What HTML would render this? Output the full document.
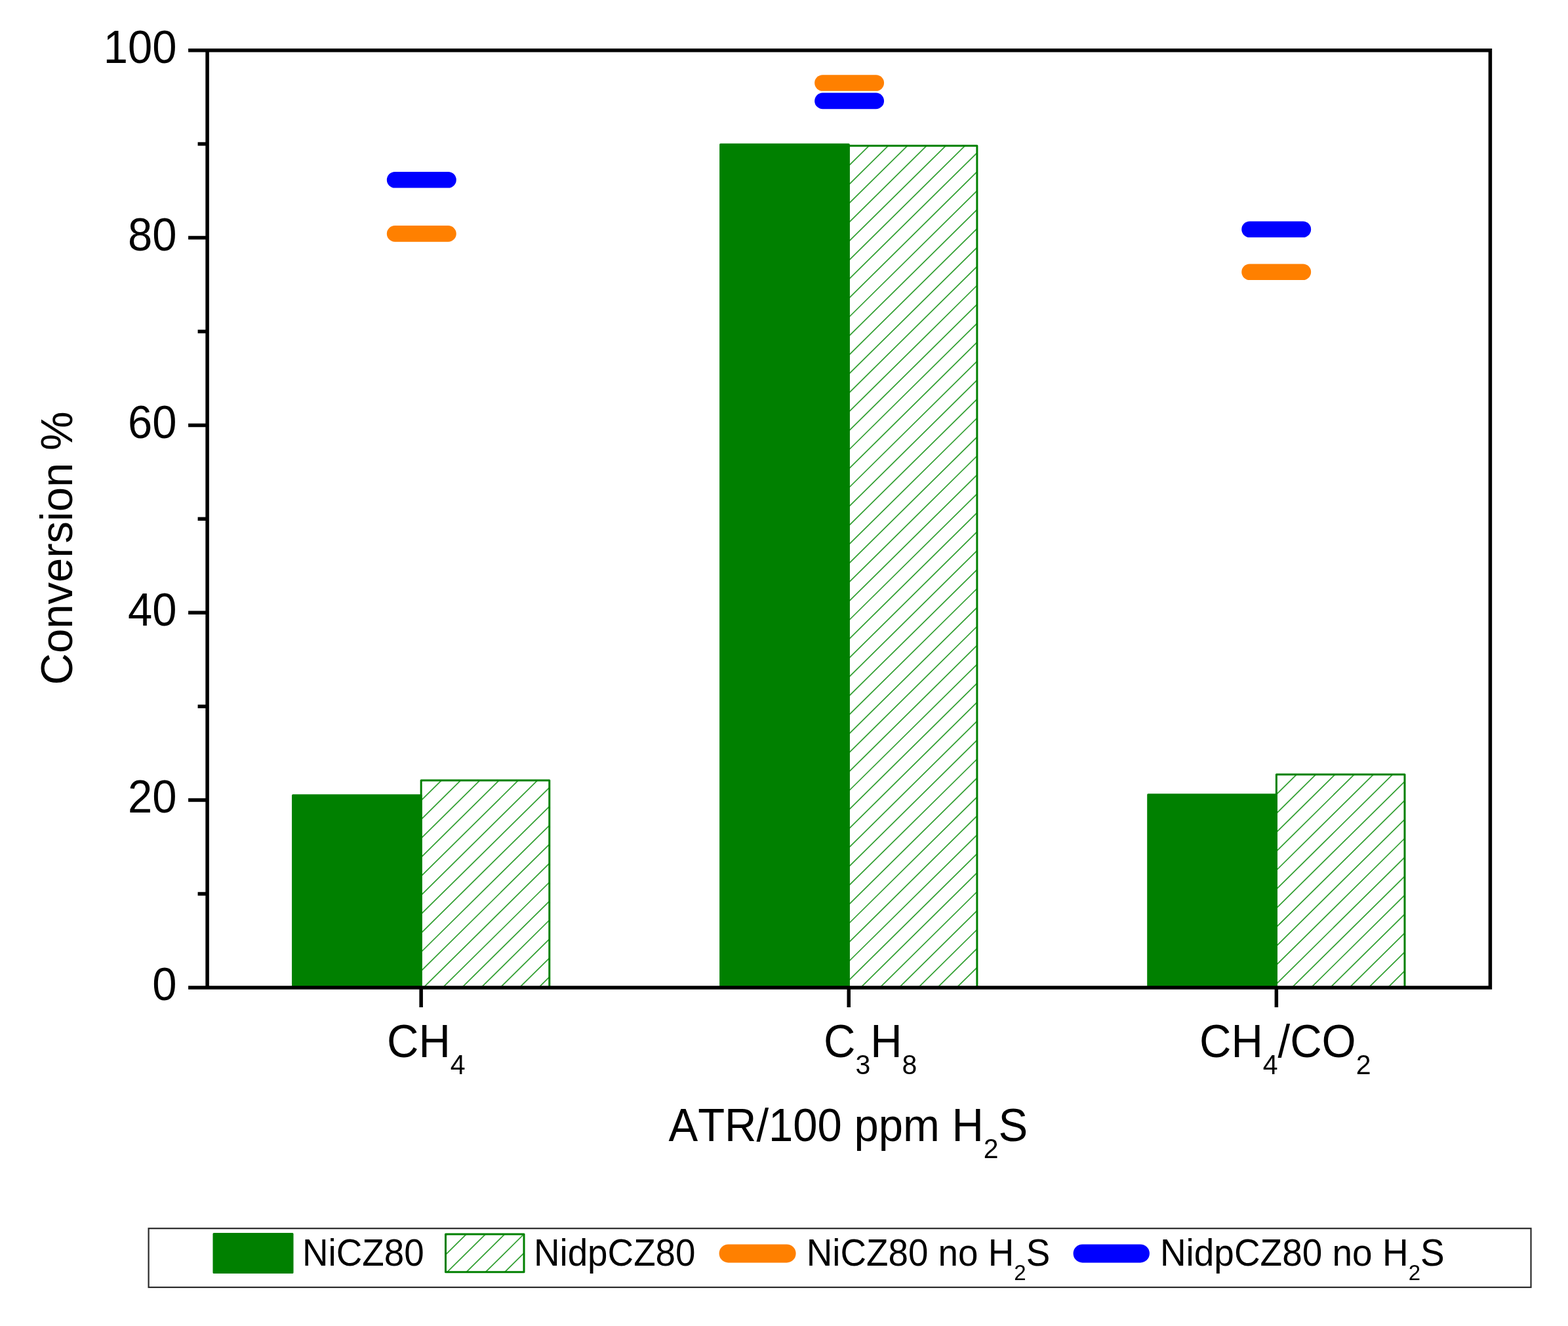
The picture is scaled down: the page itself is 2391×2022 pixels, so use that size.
<!DOCTYPE html>
<html lang="en"><head><meta charset="utf-8"><title>Conversion % - ATR/100 ppm H2S</title>
<style>html,body{margin:0;padding:0;background:#fff}body{width:2391px;height:2022px;overflow:hidden}svg{display:block}text{font-family:"Liberation Sans",Arial,Helvetica,sans-serif;fill:#000;font-kerning:none;font-variant-ligatures:none}</style>
</head><body>
<svg width="2391" height="2022" viewBox="0 0 2391 2022">
<rect x="0" y="0" width="2391" height="2022" fill="#fff"/>
<clipPath id="hc0"><rect x="642.15" y="1190.05" width="195.63" height="315.85"/></clipPath>
<g clip-path="url(#hc0)" stroke="#33a033" stroke-width="1.75" fill="none">
<path d="M640.15 962.58L839.78 765.55M640.15 991.47L839.78 794.44M640.15 1020.36L839.78 823.33M640.15 1049.25L839.78 852.22M640.15 1078.14L839.78 881.11M640.15 1107.03L839.78 910.00M640.15 1135.92L839.78 938.89M640.15 1164.81L839.78 967.78M640.15 1193.70L839.78 996.67M640.15 1222.59L839.78 1025.56M640.15 1251.48L839.78 1054.45M640.15 1280.37L839.78 1083.34M640.15 1309.26L839.78 1112.23M640.15 1338.15L839.78 1141.12M640.15 1367.04L839.78 1170.01M640.15 1395.93L839.78 1198.90M640.15 1424.82L839.78 1227.79M640.15 1453.71L839.78 1256.68M640.15 1482.60L839.78 1285.57M640.15 1511.49L839.78 1314.46M640.15 1540.38L839.78 1343.35M640.15 1569.27L839.78 1372.24M640.15 1598.16L839.78 1401.13M640.15 1627.05L839.78 1430.02M640.15 1655.94L839.78 1458.91M640.15 1684.83L839.78 1487.80M640.15 1713.72L839.78 1516.69M640.15 1742.61L839.78 1545.58M640.15 1771.50L839.78 1574.47"/>
</g>
<rect x="642.15" y="1190.05" width="195.63" height="315.85" fill="none" stroke="#008000" stroke-width="3" stroke-linejoin="round"/>
<rect x="446.52" y="1212.63" width="195.63" height="293.27" fill="#008000" stroke="#008000" stroke-width="3" stroke-linejoin="round"/>
<clipPath id="hc1"><rect x="1294.25" y="222.19" width="195.63" height="1283.71"/></clipPath>
<g clip-path="url(#hc1)" stroke="#33a033" stroke-width="1.75" fill="none">
<path d="M1292.25 -5.27L1491.88 -202.31M1292.25 23.62L1491.88 -173.42M1292.25 52.51L1491.88 -144.53M1292.25 81.40L1491.88 -115.64M1292.25 110.29L1491.88 -86.75M1292.25 139.18L1491.88 -57.86M1292.25 168.07L1491.88 -28.97M1292.25 196.96L1491.88 -0.08M1292.25 225.85L1491.88 28.81M1292.25 254.74L1491.88 57.70M1292.25 283.63L1491.88 86.59M1292.25 312.52L1491.88 115.48M1292.25 341.41L1491.88 144.37M1292.25 370.30L1491.88 173.26M1292.25 399.19L1491.88 202.15M1292.25 428.08L1491.88 231.04M1292.25 456.97L1491.88 259.93M1292.25 485.86L1491.88 288.82M1292.25 514.75L1491.88 317.71M1292.25 543.64L1491.88 346.60M1292.25 572.53L1491.88 375.49M1292.25 601.42L1491.88 404.38M1292.25 630.31L1491.88 433.27M1292.25 659.20L1491.88 462.16M1292.25 688.09L1491.88 491.05M1292.25 716.98L1491.88 519.94M1292.25 745.87L1491.88 548.83M1292.25 774.76L1491.88 577.72M1292.25 803.65L1491.88 606.61M1292.25 832.54L1491.88 635.50M1292.25 861.43L1491.88 664.39M1292.25 890.32L1491.88 693.28M1292.25 919.21L1491.88 722.17M1292.25 948.10L1491.88 751.06M1292.25 976.99L1491.88 779.95M1292.25 1005.88L1491.88 808.84M1292.25 1034.77L1491.88 837.73M1292.25 1063.66L1491.88 866.62M1292.25 1092.55L1491.88 895.51M1292.25 1121.44L1491.88 924.40M1292.25 1150.33L1491.88 953.29M1292.25 1179.22L1491.88 982.18M1292.25 1208.11L1491.88 1011.07M1292.25 1237.00L1491.88 1039.96M1292.25 1265.89L1491.88 1068.85M1292.25 1294.78L1491.88 1097.74M1292.25 1323.67L1491.88 1126.63M1292.25 1352.56L1491.88 1155.52M1292.25 1381.45L1491.88 1184.41M1292.25 1410.34L1491.88 1213.30M1292.25 1439.23L1491.88 1242.19M1292.25 1468.12L1491.88 1271.08M1292.25 1497.01L1491.88 1299.97M1292.25 1525.90L1491.88 1328.86M1292.25 1554.79L1491.88 1357.75M1292.25 1583.68L1491.88 1386.64M1292.25 1612.57L1491.88 1415.53M1292.25 1641.46L1491.88 1444.42M1292.25 1670.35L1491.88 1473.31M1292.25 1699.24L1491.88 1502.20M1292.25 1728.13L1491.88 1531.09M1292.25 1757.02L1491.88 1559.98"/>
</g>
<rect x="1294.25" y="222.19" width="195.63" height="1283.71" fill="none" stroke="#008000" stroke-width="3" stroke-linejoin="round"/>
<rect x="1098.62" y="220.19" width="195.63" height="1285.71" fill="#008000" stroke="#008000" stroke-width="3" stroke-linejoin="round"/>
<clipPath id="hc2"><rect x="1946.35" y="1180.90" width="195.63" height="325.00"/></clipPath>
<g clip-path="url(#hc2)" stroke="#33a033" stroke-width="1.75" fill="none">
<path d="M1944.35 953.43L2143.98 756.40M1944.35 982.32L2143.98 785.29M1944.35 1011.21L2143.98 814.18M1944.35 1040.10L2143.98 843.07M1944.35 1068.99L2143.98 871.96M1944.35 1097.88L2143.98 900.85M1944.35 1126.77L2143.98 929.74M1944.35 1155.66L2143.98 958.63M1944.35 1184.55L2143.98 987.52M1944.35 1213.44L2143.98 1016.41M1944.35 1242.33L2143.98 1045.30M1944.35 1271.22L2143.98 1074.19M1944.35 1300.11L2143.98 1103.08M1944.35 1329.00L2143.98 1131.97M1944.35 1357.89L2143.98 1160.86M1944.35 1386.78L2143.98 1189.75M1944.35 1415.67L2143.98 1218.64M1944.35 1444.56L2143.98 1247.53M1944.35 1473.45L2143.98 1276.42M1944.35 1502.34L2143.98 1305.31M1944.35 1531.23L2143.98 1334.20M1944.35 1560.12L2143.98 1363.09M1944.35 1589.01L2143.98 1391.98M1944.35 1617.90L2143.98 1420.87M1944.35 1646.79L2143.98 1449.76M1944.35 1675.68L2143.98 1478.65M1944.35 1704.57L2143.98 1507.54M1944.35 1733.46L2143.98 1536.43M1944.35 1762.35L2143.98 1565.32"/>
</g>
<rect x="1946.35" y="1180.90" width="195.63" height="325.00" fill="none" stroke="#008000" stroke-width="3" stroke-linejoin="round"/>
<rect x="1750.72" y="1211.70" width="195.63" height="294.20" fill="#008000" stroke="#008000" stroke-width="3" stroke-linejoin="round"/>
<rect x="589.85" y="344.09" width="105.90" height="24.60" rx="12.30" ry="12.30" fill="#FF8000"/>
<rect x="589.85" y="261.92" width="105.90" height="24.60" rx="12.30" ry="12.30" fill="#0000FF"/>
<rect x="1242.15" y="114.14" width="105.90" height="24.60" rx="12.30" ry="12.30" fill="#FF8000"/>
<rect x="1242.15" y="141.58" width="105.90" height="24.60" rx="12.30" ry="12.30" fill="#0000FF"/>
<rect x="1893.25" y="402.41" width="105.90" height="24.60" rx="12.30" ry="12.30" fill="#FF8000"/>
<rect x="1893.25" y="337.52" width="105.90" height="24.60" rx="12.30" ry="12.30" fill="#0000FF"/>
<g stroke="#000" stroke-width="5.50" fill="none" stroke-linecap="butt">
<path d="M287.10 76.70H2275.15M287.10 1505.90H2275.15M316.10 76.70V1505.90M2272.40 76.70V1505.90M301.60 1362.98H316.10M287.10 1220.06H316.10M301.60 1077.14H316.10M287.10 934.22H316.10M301.60 791.30H316.10M287.10 648.38H316.10M301.60 505.46H316.10M287.10 362.54H316.10M301.60 219.62H316.10M642.15 1505.90V1535.90M1294.25 1505.90V1535.90M1946.35 1505.90V1535.90"/>
</g>
<text transform="translate(269.50 1525.20) scale(1 1.0500)" font-size="67" text-anchor="end">0</text>
<text transform="translate(269.50 1239.36) scale(1 1.0500)" font-size="67" text-anchor="end">20</text>
<text transform="translate(269.50 953.52) scale(1 1.0500)" font-size="67" text-anchor="end">40</text>
<text transform="translate(269.50 667.68) scale(1 1.0500)" font-size="67" text-anchor="end">60</text>
<text transform="translate(269.50 381.84) scale(1 1.0500)" font-size="67" text-anchor="end">80</text>
<text transform="translate(269.50 96.00) scale(1 1.0500)" font-size="67" text-anchor="end">100</text>
<text transform="translate(110 1044.5) rotate(-90) scale(1 1.015)" font-size="67">Conversion %</text>
<text transform="translate(590.00 1611.70) scale(1 1.0500)" font-size="67" text-anchor="start">CH<tspan font-size="41" dy="24.76">4</tspan></text>
<text transform="translate(1256.00 1611.70) scale(1 1.0500)" font-size="67" text-anchor="start">C<tspan font-size="41" dy="24.76">3</tspan><tspan dy="-24.76">H</tspan><tspan font-size="41" dy="24.76">8</tspan></text>
<text transform="translate(1829.00 1611.70) scale(1 1.0500)" font-size="67" text-anchor="start">CH<tspan font-size="41" dy="24.76">4</tspan><tspan dy="-24.76">/CO</tspan><tspan font-size="41" dy="24.76">2</tspan></text>
<text transform="translate(1019.50 1740.30) scale(1 1.0400)" font-size="67" text-anchor="start">ATR/100 ppm H<tspan font-size="41" dy="25.00">2</tspan><tspan dy="-25.00">S</tspan></text>
<rect x="226.6" y="1873.2" width="2107.90" height="89.80" fill="#fff" stroke="#2a2a2a" stroke-width="2.2"/>
<rect x="326" y="1881.5" width="120" height="59" fill="#008000" stroke="#008000" stroke-width="3" stroke-linejoin="round"/>
<clipPath id="hl"><rect x="679.50" y="1882.00" width="119.50" height="57.80"/></clipPath>
<g clip-path="url(#hl)" stroke="#33a033" stroke-width="1.75" fill="none">
<path d="M677.50 1741.80L801.00 1619.91M677.50 1770.69L801.00 1648.80M677.50 1799.58L801.00 1677.69M677.50 1828.47L801.00 1706.58M677.50 1857.36L801.00 1735.47M677.50 1886.25L801.00 1764.36M677.50 1915.14L801.00 1793.25M677.50 1944.03L801.00 1822.14M677.50 1972.92L801.00 1851.03M677.50 2001.81L801.00 1879.92M677.50 2030.70L801.00 1908.81M677.50 2059.59L801.00 1937.70M677.50 2088.48L801.00 1966.59M677.50 2117.37L801.00 1995.48"/>
</g>
<rect x="679.5" y="1882" width="119.5" height="57.8" fill="none" stroke="#008000" stroke-width="3" stroke-linejoin="round"/>
<rect x="1096.6" y="1897.4" width="117" height="28" rx="14" ry="14" fill="#FF8000"/>
<rect x="1636.6" y="1897.4" width="116.3" height="28" rx="14" ry="14" fill="#0000FF"/>
<text transform="translate(461.00 1929.90) scale(1 1.0350)" font-size="54.8" text-anchor="start">NiCZ80</text>
<text transform="translate(813.90 1929.90) scale(1 1.0350)" font-size="54.8" text-anchor="start">NidpCZ80</text>
<text transform="translate(1229.65 1929.90) scale(1 1.0350)" font-size="54.8" text-anchor="start">NiCZ80 no H<tspan font-size="33" dy="21.35">2</tspan><tspan dy="-21.35">S</tspan></text>
<text transform="translate(1768.90 1929.90) scale(1 1.0350)" font-size="54.9644" text-anchor="start">NidpCZ80 no H<tspan font-size="33" dy="21.35">2</tspan><tspan dy="-21.35">S</tspan></text>
</svg>
</body></html>
